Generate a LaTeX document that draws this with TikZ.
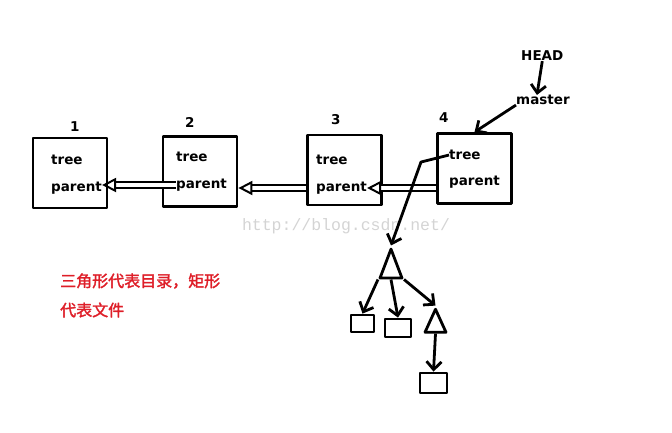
\documentclass[tikz,border=0pt]{standalone}
\usepackage{fontspec}
\setmainfont{DejaVu Sans}
\newfontfamily\cjk[FakeBold=2]{Noto Sans CJK SC}
\newfontfamily\wmark{Liberation Mono}
\usetikzlibrary{arrows.meta,shapes.geometric}
\definecolor{notered}{RGB}{222,30,40}
\definecolor{wmgray}{RGB}{212,212,212}

\begin{document}
\begin{tikzpicture}[x=1pt,y=-1pt,line join=round,
  commit/.style={draw,line width=2.8pt,minimum width=74pt,minimum height=70pt,inner sep=0},
  field/.style={font=\bfseries\fontsize{13.5}{15}\selectfont,inner sep=0,anchor=west},
  pointer/.style={line width=2.8pt,-{Straight Barb[length=8pt,width=15pt]}},
  hollow/.style={double,double distance=3.5pt,line width=2pt,-{Triangle[open,length=14pt,width=14pt,line width=2pt]}},
  dirnode/.style={draw,line width=2.8pt,isosceles triangle,shape border rotate=90,isosceles triangle stretches,inner sep=0},
  filenode/.style={draw,line width=2.8pt,inner sep=0}]
  \useasboundingbox (0,0) rectangle (672,432);
  % the four commits, newest on the right
  \node[commit] (b1) at (70,173) {};
  \node[commit] (b2) at (200,171.5) {};
  \node[commit] (b3) at (344.5,170) {};
  \node[commit] (b4) at (474.5,168.5) {};
  \node[field] (n1) at (70,127) {1};
  \node[field] (n2) at (185,122) {2};
  \node[field] (n3) at (331,120) {3};
  \node[field] (n4) at (439,118) {4};
  \node[field] (t1) at (51,160) {tree};
  \node[field] (p1) at (51,188) {parent};
  \node[field] (t2) at (176,157) {tree};
  \node[field] (p2) at (176,185) {parent};
  \node[field] (t3) at (316,160) {tree};
  \node[field] (p3) at (316,188) {parent};
  \node[field] (t4) at (449,155) {tree};
  \node[field] (p4) at (449,182) {parent};
  \node[font=\wmark\fontsize{16.5}{18}\selectfont,wmgray] (wm) at (346,226) {http://blog.csdn.net/};
  % parent pointers
  \draw[hollow] (p2.west) -- (p1.east |- p2.west);
  \draw[hollow] (b3.west |- p3) -- (b2.east |- p3);
  \draw[hollow] (b4.west |- p3) -- (p3.east);
  % branch and HEAD
  \node[field] (head) at (521,56) {HEAD};
  \node[field] (master) at (516,100) {master};
  \draw[pointer] (head.south) -- ([xshift=-6pt]master.north);
  \draw[pointer] (master.south west) -- (b4.north);
  % the tree of commit 4
  \node[dirnode,minimum width=22pt,minimum height=29pt] (d1) at (391,270.5) {};
  \node[dirnode,minimum width=21pt,minimum height=23pt] (d2) at (435.5,325.5) {};
  \node[filenode,minimum width=23pt,minimum height=17pt] (f1) at (362.5,323.5) {};
  \node[filenode,minimum width=26pt,minimum height=18pt] (f2) at (398,328) {};
  \node[filenode,minimum width=27pt,minimum height=20pt] (f3) at (433.5,383) {};
  \coordinate (kink) at (421,162);
  \draw[pointer] (t4.west) -- (kink) -- (d1.apex);
  \draw[pointer] (d1.left corner) -- (f1.north);
  \draw[pointer] (d1.south) -- (f2.north);
  \draw[pointer] (d1.right corner) -- (d2.apex);
  \draw[pointer] (d2.south) -- (f3.north);
  % legend
  \node[font=\cjk\fontsize{16}{18}\selectfont,notered,anchor=west,inner sep=0] (key1) at (60,281) {三角形代表目录，矩形};
  \node[font=\cjk\fontsize{16}{18}\selectfont,notered,anchor=west,inner sep=0] (key2) at (60,310) {代表文件};
\end{tikzpicture}
\end{document}
